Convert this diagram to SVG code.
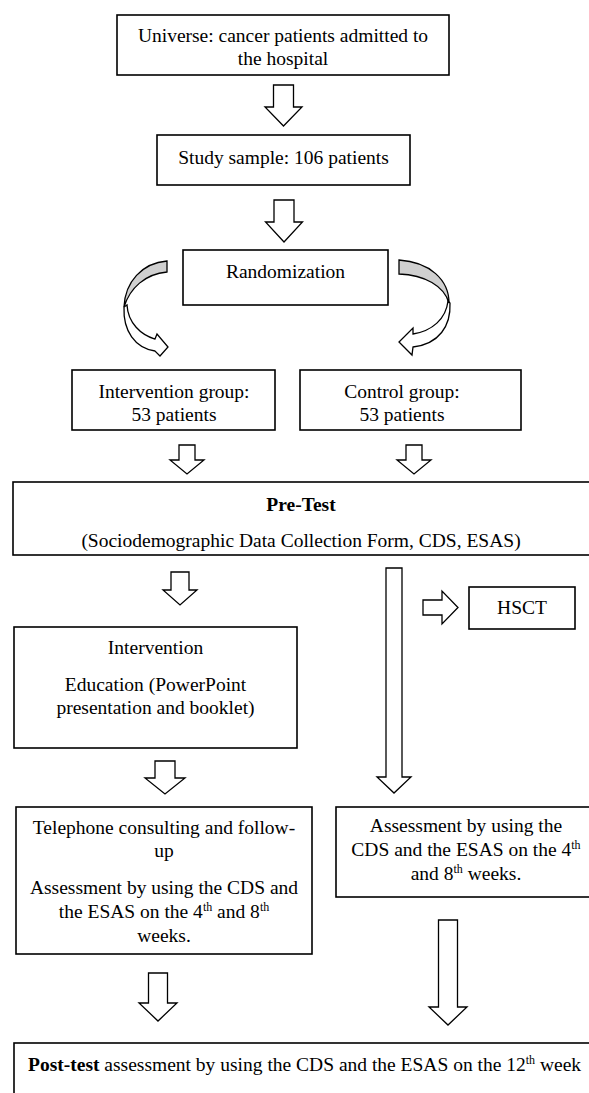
<svg xmlns="http://www.w3.org/2000/svg" width="589" height="1093" viewBox="0 0 589 1093">
<style>
.box{fill:#fff;stroke:#000;stroke-width:1.6}
.arr{fill:#fff;stroke:#000;stroke-width:1.3;stroke-linejoin:miter}
.t{font-family:"Liberation Serif",serif;font-size:19.5px;fill:#000;text-anchor:middle}
.b{font-weight:bold}
.sup{font-size:12px}
</style>
<rect width="589" height="1093" fill="#fff"/>
<g id="connectors">
<path class="arr" d="M273.5,85 H293.5 V107 H302 L283.5,126 L265,107 H273.5 Z"/>
<path class="arr" d="M274,200 H294 V222 H302.5 L284,242 L265.5,222 H274 Z"/>
<path fill="#fff" stroke="#000" stroke-width="1.3" d="M127,305 C128,323 141,335 155,339 L157,334 L168,347 L160,356 L155,351 C135,348 123,331 124,307 Z"/>
<path fill="#d0d0d0" stroke="#000" stroke-width="1.3" d="M167,261 L167,272 C145,274 130,288 124,307 C125,282 142,263 167,261 Z"/>
<path fill="#fff" stroke="#000" stroke-width="1.3" d="M448,301 C446,319 432,331 413,334 L413,328 L399,342 L412,355 L413,347 C439,344 451,326 450,303 Z"/>
<path fill="#d0d0d0" stroke="#000" stroke-width="1.3" d="M399,260 L399,274 C425,275 444,286 449,303 C449,280 430,262 399,260 Z"/>
<path class="arr" d="M179,445 H195 V460 H204 L187,474 L170,460 H179 Z"/>
<path class="arr" d="M406,445 H422 V460 H431 L414,474 L397,460 H406 Z"/>
<path class="arr" d="M171,572 H189 V590 H197 L180,605 L163,590 H171 Z"/>
<path class="arr" d="M386,568 H402 V777 H411 L394,793 L377,777 H386 Z"/>
<path class="arr" d="M423,600 H442 V591 L458,607.5 L442,624 V615 H423 Z"/>
<path class="arr" d="M155,761 H175 V778 H185 L165,794 L145,778 H155 Z"/>
<path class="arr" d="M148.5,973 H167.5 V1003 H177 L158,1021 L139,1003 H148.5 Z"/>
<path class="arr" d="M438.5,920 H457.5 V1007 H467 L448,1025 L429,1007 H438.5 Z"/>
</g>
<g id="universe">
<rect class="box" x="117" y="15" width="332" height="60"/>
<text class="t" x="283" y="42">Universe: cancer patients admitted to</text>
<text class="t" x="283" y="65">the hospital</text>
</g>
<g id="sample">
<rect class="box" x="157" y="135" width="253" height="50"/>
<text class="t" x="283.5" y="164">Study sample: 106 patients</text>
</g>
<g id="randomization">
<rect class="box" x="183" y="250" width="205" height="55"/>
<text class="t" x="285.5" y="278">Randomization</text>
</g>
<g id="intervention-group">
<rect class="box" x="72" y="370" width="203" height="60"/>
<text class="t" x="174" y="398">Intervention group:</text>
<text class="t" x="174" y="421">53 patients</text>
</g>
<g id="control-group">
<rect class="box" x="300" y="370" width="221" height="60"/>
<text class="t" x="402" y="398">Control group:</text>
<text class="t" x="402" y="421">53 patients</text>
</g>
<g id="pretest">
<rect class="box" x="13" y="482" width="590" height="73"/>
<text class="t b" x="301" y="511">Pre-Test</text>
<text class="t" x="301" y="547">(Sociodemographic Data Collection Form, CDS, ESAS)</text>
</g>
<g id="hsct">
<rect class="box" x="469" y="587" width="106" height="42"/>
<text class="t" x="522" y="614">HSCT</text>
</g>
<g id="intervention">
<rect class="box" x="14" y="627" width="283" height="121"/>
<text class="t" x="155.5" y="654">Intervention</text>
<text class="t" x="155.5" y="691">Education (PowerPoint</text>
<text class="t" x="155.5" y="714">presentation and booklet)</text>
</g>
<g id="telephone">
<rect class="box" x="16" y="807" width="296" height="147"/>
<text class="t" x="164" y="834">Telephone consulting and follow-</text>
<text class="t" x="164" y="857">up</text>
<text class="t" x="164" y="894">Assessment by using the CDS and</text>
<text class="t" x="164" y="918">the ESAS on the 4<tspan class="sup" dy="-7">th</tspan><tspan dy="7"> and 8</tspan><tspan class="sup" dy="-7">th</tspan></text>
<text class="t" x="164" y="942">weeks.</text>
</g>
<g id="control-assessment">
<rect class="box" x="336" y="807" width="260" height="90"/>
<text class="t" x="466" y="832">Assessment by using the</text>
<text class="t" x="466" y="856">CDS and the ESAS on the 4<tspan class="sup" dy="-7">th</tspan></text>
<text class="t" x="466" y="880">and 8<tspan class="sup" dy="-7">th</tspan><tspan dy="7"> weeks.</tspan></text>
</g>
<g id="posttest">
<rect class="box" x="14" y="1043" width="590" height="70"/>
<text class="t" x="28" y="1071" style="text-anchor:start"><tspan class="b">Post-test</tspan> assessment by using the CDS and the ESAS on the 12<tspan class="sup" dy="-7">th</tspan><tspan dy="7"> week</tspan></text>
</g>
</svg>
